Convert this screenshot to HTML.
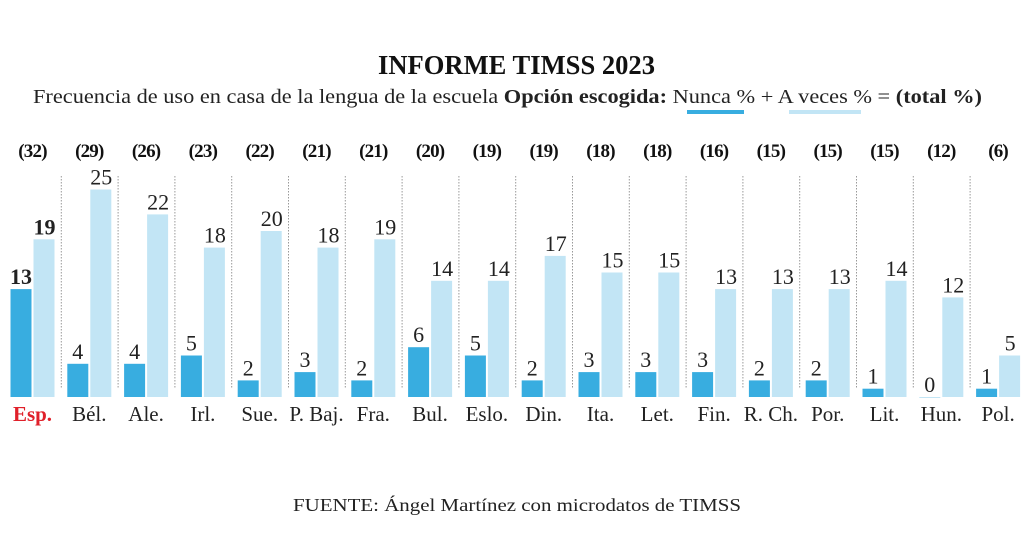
<!DOCTYPE html>
<html><head><meta charset="utf-8"><style>
body{margin:0;background:#fff;width:1024px;height:552px;overflow:hidden}
svg{font-family:"Liberation Serif",serif}
</style></head><body>
<svg width="1024" height="552" xmlns="http://www.w3.org/2000/svg">
<text x="378" y="74" textLength="277" lengthAdjust="spacingAndGlyphs" font-size="27" font-weight="bold" fill="#111">INFORME TIMSS 2023</text>
<text x="33" y="103" textLength="949" lengthAdjust="spacingAndGlyphs" font-size="20" fill="#222">Frecuencia de uso en casa de la lengua de la escuela <tspan font-weight="bold">Opción escogida:</tspan> Nunca % + A veces % = <tspan font-weight="bold">(total %)</tspan></text>
<rect x="687" y="110" width="57" height="4" fill="#38ade0"/>
<rect x="789" y="110" width="72" height="4" fill="#c2e5f5"/>
<g id="c"></g>
<text x="293" y="511" textLength="448" lengthAdjust="spacingAndGlyphs" font-size="18" fill="#222">FUENTE:  Ángel Martínez con microdatos de TIMSS</text>
</svg>
<script>
var d=[["Esp.",32,13,19],["Bél.",29,4,25],["Ale.",26,4,22],["Irl.",23,5,18],["Sue.",22,2,20],["P. Baj.",21,3,18],["Fra.",21,2,19],["Bul.",20,6,14],["Eslo.",19,5,14],["Din.",19,2,17],["Ita.",18,3,15],["Let.",18,3,15],["Fin.",16,3,13],["R. Ch.",15,2,13],["Por.",15,2,13],["Lit.",15,1,14],["Hun.",12,0,12],["Pol.",6,1,5]];
var s="",B=397,k=8.3;
d.forEach(function(r,i){var x=10.5+i*56.8;var b=i==0?' font-weight="bold"':'';
if(i>0)s+='<line x1="'+(x-6)+'" y1="176" x2="'+(x-6)+'" y2="389" stroke="#999" stroke-width="1" stroke-dasharray="1.5,1.5"/>';
var h1=r[2]*k,h2=r[3]*k;
s+='<rect x="'+x+'" y="'+(B-h1)+'" width="21" height="'+Math.max(h1,1)+'" fill="'+(r[2]?'#38ade0':'#c2e5f5')+'"/>';
s+='<rect x="'+(x+23)+'" y="'+(B-h2)+'" width="21" height="'+h2+'" fill="#c2e5f5"/>';
s+='<text x="'+(x+10.5)+'" y="'+(B-h1-5)+'" text-anchor="middle" font-size="22" fill="#222"'+b+'>'+r[2]+'</text>';
s+='<text x="'+(x+34)+'" y="'+(B-h2-5)+'" text-anchor="middle" font-size="22" fill="#222"'+b+'>'+r[3]+'</text>';
s+='<text x="'+(x+22)+'" y="157" text-anchor="middle" font-size="19" font-weight="bold" fill="#111" letter-spacing="-0.8">('+r[1]+')</text>';
s+='<text x="'+(x+22)+'" y="421" text-anchor="middle" font-size="21" fill="'+(i==0?'#e0202a':'#222')+'"'+b+'>'+r[0]+'</text>';
});
document.getElementById("c").innerHTML=s;
</script>
</body></html>
